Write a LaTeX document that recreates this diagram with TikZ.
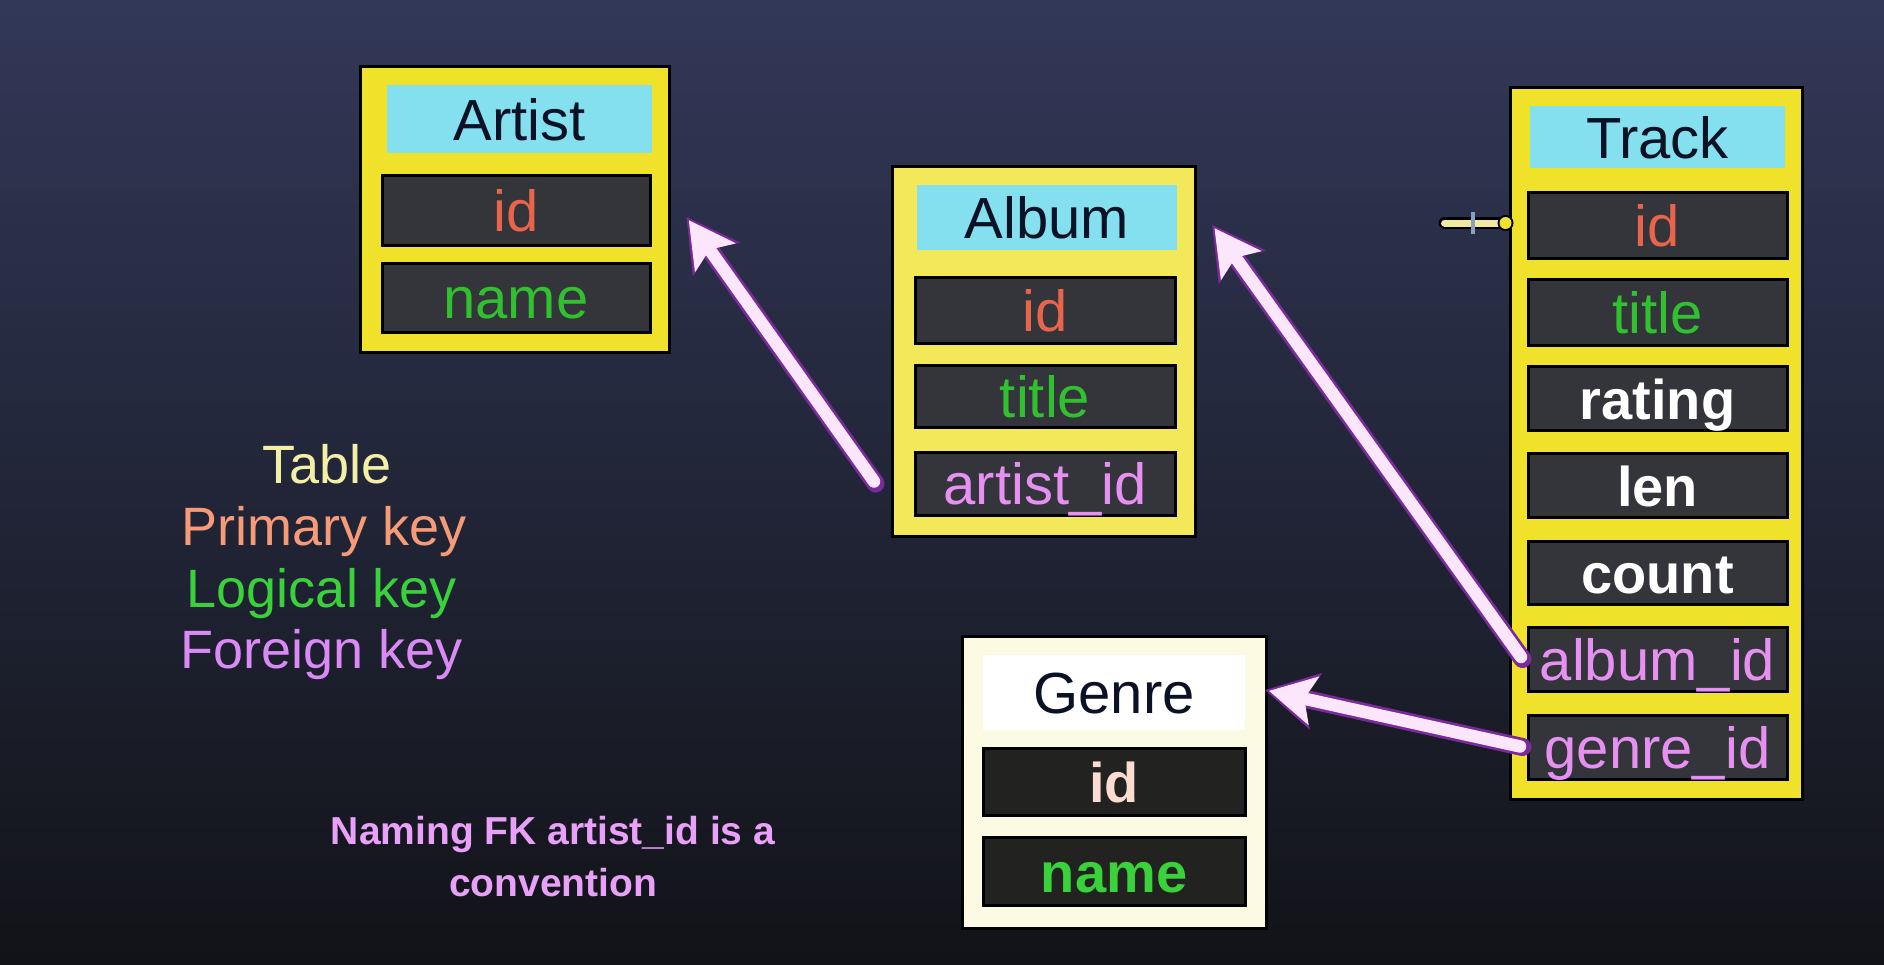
\documentclass[tikz,border=0pt]{standalone}
\usepackage{fontspec}
\setmainfont{Liberation Sans}
\usetikzlibrary{arrows.meta}

\definecolor{bgtop}{HTML}{323858}
\definecolor{bgmid}{HTML}{2A2E44}
\definecolor{bgbot}{HTML}{121318}
\definecolor{tableyellow}{HTML}{F0E22A}
\definecolor{albumyellow}{HTML}{F3E85A}
\definecolor{genrepale}{HTML}{FCFAE2}
\definecolor{headcyan}{HTML}{84E0EE}
\definecolor{headtext}{HTML}{0C1226}
\definecolor{rowgray}{HTML}{34353A}
\definecolor{rowdark}{HTML}{222220}
\definecolor{pkred}{HTML}{E8654C}
\definecolor{lkgreen}{HTML}{30C030}
\definecolor{fkpink}{HTML}{E690F2}
\definecolor{fkwhite}{HTML}{FCE6FB}
\definecolor{fkpurple}{HTML}{7A2A9A}
\definecolor{legtable}{HTML}{F3EFA6}
\definecolor{legpk}{HTML}{F69A78}
\definecolor{leglk}{HTML}{3AD23A}
\definecolor{legfk}{HTML}{D98AF5}
\definecolor{notepink}{HTML}{E9A0F8}
\definecolor{pinyellow}{HTML}{F0EAA0}
\definecolor{pintick}{HTML}{8AA0C0}

\begin{document}
\begin{tikzpicture}[x=1pt,y=-1pt,
  tablebox/.style={draw=black, line width=3pt, fill=tableyellow, inner sep=0pt},
  header/.style={fill=headcyan, inner sep=0pt, text=headtext,
    font=\fontsize{58}{62}\selectfont, text height=42pt, text depth=0pt},
  field/.style={draw=black, line width=3pt, fill=rowgray, inner sep=0pt,
    font=\fontsize{58}{62}\selectfont, text height=42pt, text depth=0pt},
  boldfield/.style={field, font=\fontsize{56}{60}\selectfont\bfseries},
  legend/.style={anchor=base, inner sep=0pt, font=\fontsize{54}{60}\selectfont},
  fkedge/.style={line width=18pt, draw=fkpurple, line cap=round,
    -{Stealth[length=52pt, width=58pt, inset=12pt, line width=1pt]}},
  fkcore/.style={line width=12.5pt, draw=fkwhite, line cap=round,
    shorten >=4pt, shorten <=2.5pt,
    -{Stealth[length=46pt, width=50pt, inset=10pt, line width=1pt]}}
]
\useasboundingbox (0,0) rectangle (1884,964);
\shade[top color=bgtop, middle color=bgmid, bottom color=bgbot] (0,0) rectangle (1884,964);

% ---- Artist ----
\node[tablebox, minimum width=309pt, minimum height=286pt] (artist) at (514.5,209) {};
\node[header, minimum width=265pt, minimum height=68pt] (arthead) at (519.5,119) {Artist};
\node[field, minimum width=268pt, minimum height=70pt, text=pkred] (artid) at (516,210) {id};
\node[field, minimum width=268pt, minimum height=69pt, text=lkgreen] (artname) at (516,297.5) {name};

% ---- Album ----
\node[tablebox, fill=albumyellow, minimum width=303pt, minimum height=370pt] (album) at (1043.5,351) {};
\node[header, minimum width=260pt, minimum height=65pt] (albhead) at (1047,217.5) {Album};
\node[field, minimum width=260pt, minimum height=66pt, text=pkred] (albid) at (1045,310) {id};
\node[field, minimum width=260pt, minimum height=62pt, text=lkgreen] (albtitle) at (1045,396) {title};
\node[field, minimum width=260pt, minimum height=63pt, text=fkpink] (albart) at (1045,483.5) {artist\_id};

% ---- Track ----
\node[tablebox, minimum width=292pt, minimum height=712pt] (track) at (1656,443) {};
\node[header, minimum width=255pt, minimum height=62pt] (trkhead) at (1657.5,137) {Track};
\node[field, minimum width=259pt, minimum height=66pt, text=pkred] (trkid) at (1657.5,225) {id};
\node[field, minimum width=259pt, minimum height=66pt, text=lkgreen] (trktitle) at (1657.5,312) {title};
\node[boldfield, minimum width=259pt, minimum height=64pt, text=white] (trkrating) at (1657.5,398) {rating};
\node[boldfield, minimum width=259pt, minimum height=64pt, text=white] (trklen) at (1657.5,485) {len};
\node[boldfield, minimum width=259pt, minimum height=63pt, text=white] (trkcount) at (1657.5,572.5) {count};
\node[field, minimum width=259pt, minimum height=64pt, text=fkpink] (trkalb) at (1657.5,659) {album\_id};
\node[field, minimum width=259pt, minimum height=64pt, text=fkpink] (trkgen) at (1657.5,747) {genre\_id};

% ---- Genre ----
\node[tablebox, fill=genrepale, minimum width=304pt, minimum height=292pt] (genre) at (1114,782) {};
\node[header, fill=white, minimum width=262pt, minimum height=75pt] (genhead) at (1114,692.5) {Genre};
\node[boldfield, fill=rowdark, minimum width=262pt, minimum height=67pt, text=legpk!35!white] (genid) at (1114,781.5) {id};
\node[boldfield, fill=rowdark, minimum width=262pt, minimum height=68pt, text=leglk] (genname) at (1114,871) {name};

% ---- foreign key connectors ----
\draw[fkedge] ([xshift=-38pt]albart.west) -- ([xshift=35pt,yshift=-7pt]artid.east);
\draw[fkcore] ([xshift=-38pt]albart.west) -- ([xshift=35pt,yshift=-7pt]artid.east);
\draw[fkedge] ([xshift=-4pt]trkalb.west) -- ([xshift=35pt,yshift=-7.5pt]albhead.east);
\draw[fkcore] ([xshift=-4pt]trkalb.west) -- ([xshift=35pt,yshift=-7.5pt]albhead.east);
\draw[fkedge] ([xshift=-4pt]trkgen.west) -- ([xshift=20pt,yshift=2.5pt]genhead.east);
\draw[fkcore] ([xshift=-4pt]trkgen.west) -- ([xshift=20pt,yshift=2.5pt]genhead.east);

% ---- pointer mark beside Track.id ----
\coordinate (pin) at ([xshift=-21pt,yshift=2pt]trkid.west);
\draw[line width=12pt, black, line cap=round] ([xshift=-61pt]pin) -- (pin);
\draw[line width=7pt, pinyellow, line cap=round] ([xshift=-61pt]pin) -- (pin);
\draw[line width=4pt, pintick] ([xshift=-33pt,yshift=11pt]pin) -- ([xshift=-33pt,yshift=-11pt]pin);
\fill[black] (pin) circle (8pt);
\fill[tableyellow] (pin) circle (6pt);

% ---- legend ----
\node[legend, text=legtable] (legT) at (327,483) {Table};
\node[legend, text=legpk] (legP) at (324,545) {Primary key};
\node[legend, text=leglk] (legL) at (322,607) {Logical key};
\node[legend, text=legfk] (legF) at (322,668) {Foreign key};

% ---- note ----
\node[inner sep=0pt, align=center, text=notepink,
      font=\fontsize{39}{52}\selectfont\bfseries] (note) at (553,857)
  {Naming FK artist\_id is a\\convention};
\end{tikzpicture}
\end{document}
